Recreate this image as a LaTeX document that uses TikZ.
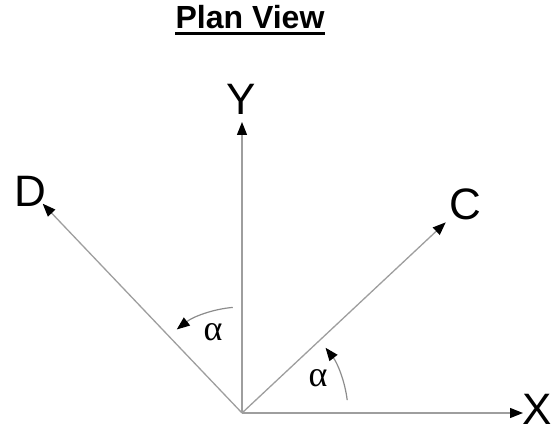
\documentclass[tikz,border=0pt]{standalone}
\usepackage{fontspec}
\setmainfont{Liberation Sans}
\newfontfamily\greekfont{Liberation Serif}
\usetikzlibrary{arrows.meta,positioning,calc}
\tikzset{
  >={Triangle[length=13pt,width=10pt,black]},
  axis/.style={draw=black!38, line width=1.3pt, ->},
  angarc/.style={draw=black!45, line width=1.2pt, ->},
  axlabel/.style={inner sep=0pt, anchor=base, font=\fontsize{44}{44}\selectfont},
  anglabel/.style={inner sep=0pt, font=\fontsize{36}{36}\greekfont},
  heading/.style={inner sep=0pt, anchor=base, font=\fontsize{32}{32}\selectfont\bfseries},
}

\begin{document}
\begin{tikzpicture}[x=1pt, y=1pt]
  \useasboundingbox (0,0) rectangle (555,433);

  \node[heading] (title) at (250,404) {Plan View};
  \draw[line width=3pt] ($(title.base west)+(0,-4.5)$) -- ($(title.base east)+(0,-4.5)$);

  \coordinate (o) at (242,20);
  \coordinate (xt) at ($(o)+(0:281)$);
  \coordinate (yt) at ($(o)+(90:291)$);
  \coordinate (ct) at ($(o)+(43.1:279)$);
  \coordinate (dt) at ($(o)+(133.6:289)$);

  \node[axlabel] (xl) at (537,8) {X};
  \node[axlabel] (yl) at (241,318) {Y};
  \node[axlabel] (cl) at (465,213) {C};
  \node[axlabel] (dl) at (30,226) {D};

  \draw[axis] (o) -- (xt);
  \draw[axis] (o) -- (yt);
  \draw[axis] (o) -- (ct);
  \draw[axis] (o) -- (dt);

  % angle marks
  \draw[angarc] ($(o)+(7:106)$) arc[start angle=7, end angle=38, radius=106];
  \draw[angarc] ($(o)+(95:106)$) arc[start angle=95, end angle=128, radius=106];
  \node[anglabel] (a1) at (318,55) {α};
  \node[anglabel] (a2) at (213,101) {α};
\end{tikzpicture}
\end{document}
